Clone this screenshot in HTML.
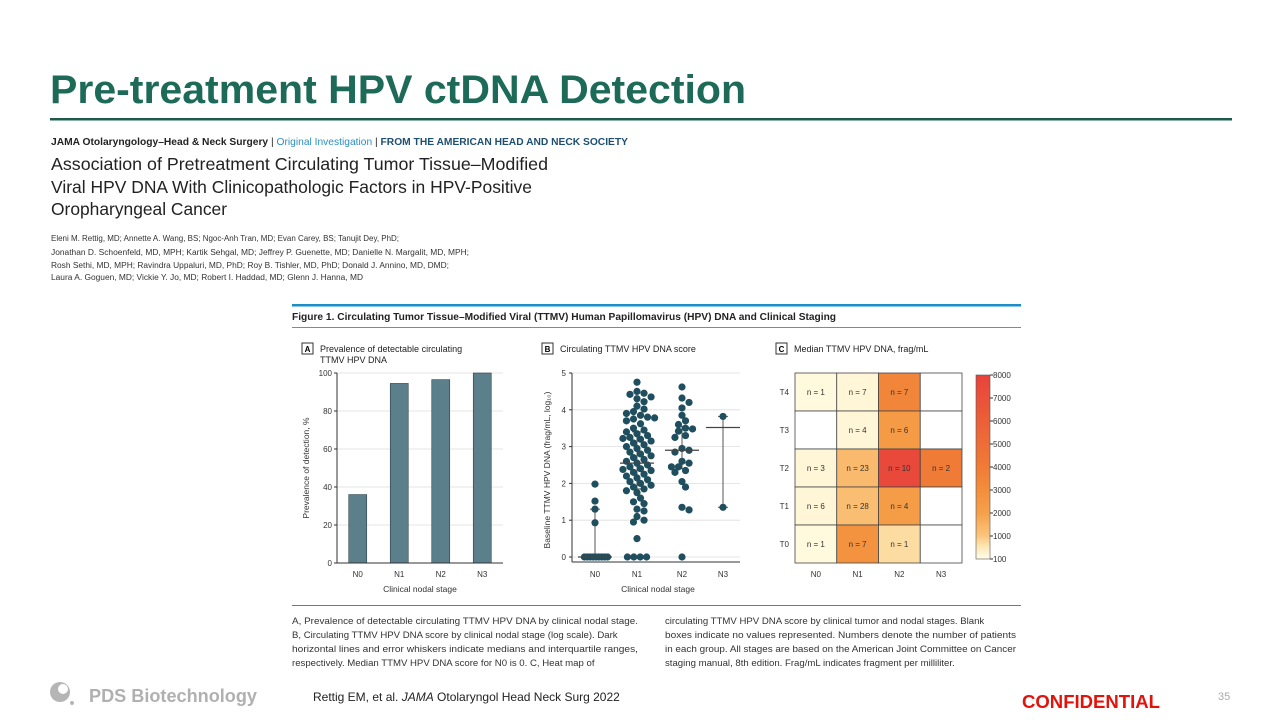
<!DOCTYPE html>
<html><head><meta charset="utf-8">
<style>
html,body{margin:0;padding:0;background:#fff;}
svg{display:block;font-family:"Liberation Sans",sans-serif;}
</style></head>
<body>
<svg id="slide" width="1280" height="720" viewBox="0 0 1280 720">
<text x="50" y="103" font-size="40" font-weight="bold" fill="#1d6a58" textLength="696" lengthAdjust="spacingAndGlyphs">Pre-treatment HPV ctDNA Detection</text>
<rect x="50" y="118" width="1182" height="2.5" fill="#1d5c4c"/>
<text x="51" y="145" font-size="10.5" font-weight="bold" fill="#222" textLength="577" lengthAdjust="spacingAndGlyphs">JAMA Otolaryngology–Head &amp; Neck Surgery <tspan font-weight="normal">|</tspan> <tspan fill="#2a8fc0" font-weight="normal">Original Investigation</tspan> <tspan font-weight="normal">|</tspan> <tspan fill="#1d4f70">FROM THE AMERICAN HEAD AND NECK SOCIETY</tspan></text>
<g font-size="17.5" fill="#222">
<text x="51" y="170" textLength="497" lengthAdjust="spacingAndGlyphs">Association of Pretreatment Circulating Tumor Tissue–Modified</text>
<text x="51" y="193" textLength="481" lengthAdjust="spacingAndGlyphs">Viral HPV DNA With Clinicopathologic Factors in HPV-Positive</text>
<text x="51" y="215" textLength="176" lengthAdjust="spacingAndGlyphs">Oropharyngeal Cancer</text>
</g>
<g font-size="8" fill="#333">
<text x="51" y="241" textLength="348" lengthAdjust="spacingAndGlyphs">Eleni M. Rettig, MD; Annette A. Wang, BS; Ngoc-Anh Tran, MD; Evan Carey, BS; Tanujit Dey, PhD;</text>
<text x="51" y="255" textLength="418" lengthAdjust="spacingAndGlyphs">Jonathan D. Schoenfeld, MD, MPH; Kartik Sehgal, MD; Jeffrey P. Guenette, MD; Danielle N. Margalit, MD, MPH;</text>
<text x="51" y="268" textLength="398" lengthAdjust="spacingAndGlyphs">Rosh Sethi, MD, MPH; Ravindra Uppaluri, MD, PhD; Roy B. Tishler, MD, PhD; Donald J. Annino, MD, DMD;</text>
<text x="51" y="280" textLength="312" lengthAdjust="spacingAndGlyphs">Laura A. Goguen, MD; Vickie Y. Jo, MD; Robert I. Haddad, MD; Glenn J. Hanna, MD</text>
</g>
<rect x="292" y="304" width="729" height="2.5" fill="#1a8fc7"/>
<text x="292" y="320" font-size="10.5" font-weight="bold" fill="#222" textLength="544" lengthAdjust="spacingAndGlyphs">Figure 1. Circulating Tumor Tissue–Modified Viral (TTMV) Human Papillomavirus (HPV) DNA and Clinical Staging</text>
<rect x="292" y="327" width="729" height="1" fill="#888"/>

<rect x="302" y="343" width="11" height="11" fill="none" stroke="#333"/>
<text x="307.5" y="352" font-size="8" font-weight="bold" text-anchor="middle">A</text>
<text x="320" y="352" font-size="9" fill="#222">Prevalence of detectable circulating</text>
<text x="320" y="363" font-size="9" fill="#222">TTMV HPV DNA</text>
<rect x="542" y="343" width="11" height="11" fill="none" stroke="#333"/>
<text x="547.5" y="352" font-size="8" font-weight="bold" text-anchor="middle">B</text>
<text x="560" y="352" font-size="9" fill="#222">Circulating TTMV HPV DNA score</text>
<rect x="776" y="343" width="11" height="11" fill="none" stroke="#333"/>
<text x="781.5" y="352" font-size="8" font-weight="bold" text-anchor="middle">C</text>
<text x="794" y="352" font-size="9" fill="#222">Median TTMV HPV DNA, frag/mL</text>

<g id="chartA"></g>
<g id="chartB"></g>
<g id="chartC"></g>

<rect x="292" y="605" width="729" height="1" fill="#777"/>
<g font-size="9.6" fill="#333">
<text x="292" y="624" textLength="346" lengthAdjust="spacingAndGlyphs">A, Prevalence of detectable circulating TTMV HPV DNA by clinical nodal stage.</text>
<text x="292" y="638">B, Circulating TTMV HPV DNA score by clinical nodal stage (log scale). Dark</text>
<text x="292" y="652" textLength="346" lengthAdjust="spacingAndGlyphs">horizontal lines and error whiskers indicate medians and interquartile ranges,</text>
<text x="292" y="666">respectively. Median TTMV HPV DNA score for N0 is 0. C, Heat map of</text>
<text x="665" y="624">circulating TTMV HPV DNA score by clinical tumor and nodal stages. Blank</text>
<text x="665" y="638" textLength="351" lengthAdjust="spacingAndGlyphs">boxes indicate no values represented. Numbers denote the number of patients</text>
<text x="665" y="652" textLength="351" lengthAdjust="spacingAndGlyphs">in each group. All stages are based on the American Joint Committee on Cancer</text>
<text x="665" y="666">staging manual, 8th edition. Frag/mL indicates fragment per milliliter.</text>
</g>
<text x="313" y="701" font-size="12" fill="#222">Rettig EM, et al. <tspan font-style="italic">JAMA</tspan> Otolaryngol  Head Neck Surg 2022</text>
<text x="1022" y="708" font-size="18" font-weight="bold" fill="#e3120b" textLength="138" lengthAdjust="spacingAndGlyphs">CONFIDENTIAL</text>
<text x="1218" y="700" font-size="11" fill="#aaa">35</text>
<g>
<circle cx="60" cy="692" r="10" fill="#b5b5b5"/>
<circle cx="63" cy="689" r="5" fill="#fff"/>
<circle cx="72" cy="703" r="2" fill="#b5b5b5"/>
<text x="89" y="702" font-size="18" font-weight="bold" fill="#b0b0b0" textLength="168" lengthAdjust="spacingAndGlyphs">PDS Biotechnology</text>
</g>
</svg>
<script>
const NS='http://www.w3.org/2000/svg';
function mk(p,tag,attrs){const e=document.createElementNS(NS,tag);for(const k in attrs)e.setAttribute(k,attrs[k]);p.appendChild(e);return e;}

// ---------- Panel A data ----------
const aCategories=['N0','N1','N2','N3'];
const aValues=[36,94.5,96.5,100];
const aTicks=[0,20,40,60,80,100];
// ---------- Panel B data ----------
const bCategories=['N0','N1','N2','N3'];
const bN0=[0,0,0,0,0,0,0,0,0,0.93,1.3,1.52,1.98];
const bN1=[4.75,4.5,4.45,4.42,4.35,4.3,4.22,4.1,4.02,3.95,3.9,3.85,3.8,3.78,3.75,3.7,3.62,3.5,3.45,3.4,3.35,3.3,3.25,3.22,3.2,3.15,3.1,3.05,3.0,2.95,2.9,2.85,2.8,2.75,2.7,2.65,2.6,2.55,2.5,2.45,2.4,2.38,2.35,2.3,2.25,2.2,2.15,2.1,2.05,2.0,1.95,1.9,1.85,1.8,1.75,1.6,1.5,1.45,1.3,1.25,1.1,1.0,0.95,0.5,0,0,0,0];
const bN2=[4.62,4.32,4.2,4.05,3.85,3.7,3.6,3.5,3.48,3.42,3.3,3.25,2.95,2.9,2.85,2.6,2.55,2.45,2.45,2.35,2.3,2.05,1.9,1.35,1.28,0];
const bN3=[3.82,1.35];
const bMedians=[0,2.55,2.9,3.52];
const bQ1=[0,1.85,2.4,1.35];
const bQ3=[1.3,3.4,3.55,3.82];
const bTicks=[0,1,2,3,4,5];
// ---------- Panel C data ----------
const cCols=['N0','N1','N2','N3'];
const cRows=['T4','T3','T2','T1','T0'];
const cMedians=[[150,200,3500,null],[null,200,2300,null],[200,1300,7500,4000],[200,1200,2200,null],[150,2700,700,null]];
const cCounts=[[1,7,7,null],[null,4,6,null],[3,23,10,2],[6,28,4,null],[1,7,1,null]];
const cTicks=[100,1000,2000,3000,4000,5000,6000,7000,8000];

// ---------- Panel A ----------
(function(){
 const g=document.getElementById('chartA');
 const x0=337,x1=503,y0=563,y1=373;
 const y=v=>y0-(v/100)*(y0-y1);
 const bw=(x1-x0)/aCategories.length;
 const xc=i=>x0+bw*(i+0.5);
 aTicks.forEach(t=>{
  const l=mk(g,'line',{x1:x0,x2:x1,y1:y(t),y2:y(t),stroke:'#ddd','stroke-width':0.8});
  
  
  mk(g,'line',{x1:x0-3,x2:x0,y1:y(t),y2:y(t),stroke:'#333'});
  const tx=mk(g,'text',{x:x0-5,y:y(t)+3,'font-size':8,'text-anchor':'end',fill:'#333'});tx.textContent=t;
  
  
 });
 aValues.forEach((v,i)=>{
  const r=mk(g,'rect',{x:xc(i)-9,y:y(v),width:18,height:y0-y(v),fill:'#5b7f8b',stroke:'#2a3f48','stroke-width':0.6});
  
  
  const t=mk(g,'text',{x:xc(i),y:577,'font-size':8,'text-anchor':'middle',fill:'#333'});t.textContent=aCategories[i];
  
  
 });
 mk(g,'line',{x1:x0,x2:x0,y1:y1,y2:y0,stroke:'#333'});
 mk(g,'line',{x1:x0,x2:x1,y1:y0,y2:y0,stroke:'#333'});
 const xt=mk(g,'text',{x:(x0+x1)/2,y:592,'font-size':8.5,'text-anchor':'middle',fill:'#333'});xt.textContent='Clinical nodal stage';
 
 
 const yt=mk(g,'text',{x:0,y:0,'font-size':8.5,'text-anchor':'middle',fill:'#333',transform:'translate(309,468) rotate(-90)'});yt.textContent='Prevalence of detection, %';
 
 
})();

// ---------- Panel B ----------
(function(){
 const g=document.getElementById('chartB');
 const x0=572,x1=740,y0=557,y1=373;
 const y=v=>y0-(v/5)*(y0-y1);
 const cx=[595,637,682,723];
 bTicks.forEach(t=>{
  const l=mk(g,'line',{x1:x0,x2:x1,y1:y(t),y2:y(t),stroke:'#ddd','stroke-width':0.8});
  
  
  mk(g,'line',{x1:x0-3,x2:x0,y1:y(t),y2:y(t),stroke:'#333'});
  const tx=mk(g,'text',{x:x0-6,y:y(t)+3,'font-size':8,'text-anchor':'end',fill:'#333'});tx.textContent=t;
  
  
 });
 mk(g,'line',{x1:x0,x2:x0,y1:y1,y2:y0+5,stroke:'#333'});
 mk(g,'line',{x1:x0,x2:x1,y1:y0+5,y2:y0+5,stroke:'#333'});
 const groups=[bN0,bN1,bN2,bN3];
 const r=3.6, sep=6.4;
 groups.forEach((vals,i)=>{
  const wl=mk(g,'line',{x1:cx[i],x2:cx[i],y1:y(bQ1[i]),y2:y(bQ3[i]),stroke:'#555','stroke-width':1});
  
  
  [bQ1[i],bQ3[i]].forEach(q=>mk(g,'line',{x1:cx[i]-5,x2:cx[i]+5,y1:y(q),y2:y(q),stroke:'#555'}));
  const placed=[];
  const zeroCount=vals.filter(v=>v===0).length;
  let zi=0;
  vals.forEach(v=>{
   const py=y(v);let off=0;
   if(v===0 && zeroCount>1){
    const step=zeroCount>5?2.9:sep;
    off=(zi-(zeroCount-1)/2)*step+(zeroCount>5?1:0);zi++;
   } else {
    for(let k=0;k<40;k++){
     const cand=k===0?0:(k%2?1:-1)*Math.ceil(k/2)*sep*0.55;
     if(placed.every(p=>Math.hypot(p[0]-cand,p[1]-py)>=sep)){off=cand;break;}
    }
    placed.push([off,py]);
   }
   const c=mk(g,'circle',{cx:cx[i]+off,cy:py,r:r,fill:'#1f4e5e'});
   
   
  });
  const ml=mk(g,'line',{x1:cx[i]-17,x2:cx[i]+17,y1:y(bMedians[i]),y2:y(bMedians[i]),stroke:'#444','stroke-width':1.2});
  
  
  const t=mk(g,'text',{x:cx[i],y:577,'font-size':8,'text-anchor':'middle',fill:'#333'});t.textContent=bCategories[i];
  
  
 });
 const xt=mk(g,'text',{x:658,y:592,'font-size':8.5,'text-anchor':'middle',fill:'#333'});xt.textContent='Clinical nodal stage';
 
 
 const yt=mk(g,'text',{x:0,y:0,'font-size':8.5,'text-anchor':'middle',fill:'#333',transform:'translate(550,470) rotate(-90)'});yt.textContent='Baseline TTMV HPV DNA (frag/mL, log₁₀)';
 
 
})();

// ---------- Panel C ----------
(function(){
 const g=document.getElementById('chartC');
 const x0=795,x1=962,y0=373,y1=563;
 const cw=(x1-x0)/cCols.length,ch=(y1-y0)/cRows.length;
 const stops=[[100,[255,251,227]],[600,[253,227,173]],[1000,[251,197,125]],[2000,[246,160,74]],[3000,[242,142,60]],[4000,[240,123,54]],[6000,[236,95,56]],[8000,[232,66,59]]];
 function col(v){
  for(let i=0;i<stops.length-1;i++){const a=stops[i],b=stops[i+1];
   if(v<=b[0]){const t=Math.max(0,(v-a[0])/(b[0]-a[0]));const c=a[1].map((u,j)=>Math.round(u+(b[1][j]-u)*t));return 'rgb('+c.join(',')+')';}}
  return 'rgb(232,66,59)';
 }
 cRows.forEach((rl,ri)=>{
  cCols.forEach((cl,ci)=>{
   const v=cMedians[ri][ci];
   const rc=mk(g,'rect',{x:x0+ci*cw,y:y0+ri*ch,width:cw,height:ch,fill:v==null?'#fff':col(v),stroke:'#444','stroke-width':0.8});
   
   
   if(cCounts[ri][ci]!=null){
    const t=mk(g,'text',{x:x0+ci*cw+cw/2,y:y0+ri*ch+ch/2+3,'font-size':8,'text-anchor':'middle',fill:'#333'});
    t.textContent='n = '+cCounts[ri][ci];
    
    
   }
  });
  const t=mk(g,'text',{x:x0-6,y:y0+ri*ch+ch/2+3,'font-size':8,'text-anchor':'end',fill:'#333'});t.textContent=rl;
  
  
 });
 cCols.forEach((cl,ci)=>{
  const t=mk(g,'text',{x:x0+ci*cw+cw/2,y:577,'font-size':8,'text-anchor':'middle',fill:'#333'});t.textContent=cl;
  
  
 });
 const bx=976,bw=14,by0=559,by1=375;
 const cy=v=>by0-(v/8000)*(by0-by1);
 const defs=mk(g,'defs',{});
 const grad=mk(defs,'linearGradient',{id:'cbar',x1:0,y1:1,x2:0,y2:0});
 stops.forEach(s=>mk(grad,'stop',{offset:(s[0]/8000),'stop-color':'rgb('+s[1].join(',')+')'}));
 const cb=mk(g,'rect',{x:bx,y:by1,width:bw,height:by0-by1,fill:'url(#cbar)',stroke:'#555','stroke-width':0.6});
 
 
 cTicks.forEach(t=>{
  const yy=t===100?by0:cy(t);
  mk(g,'line',{x1:bx+bw,x2:bx+bw+3,y1:yy,y2:yy,stroke:'#333'});
  const tx=mk(g,'text',{x:bx+bw+3,y:yy+3,'font-size':8,fill:'#333'});tx.textContent=t;
  
  
 });
})();
</script>
</body></html>
